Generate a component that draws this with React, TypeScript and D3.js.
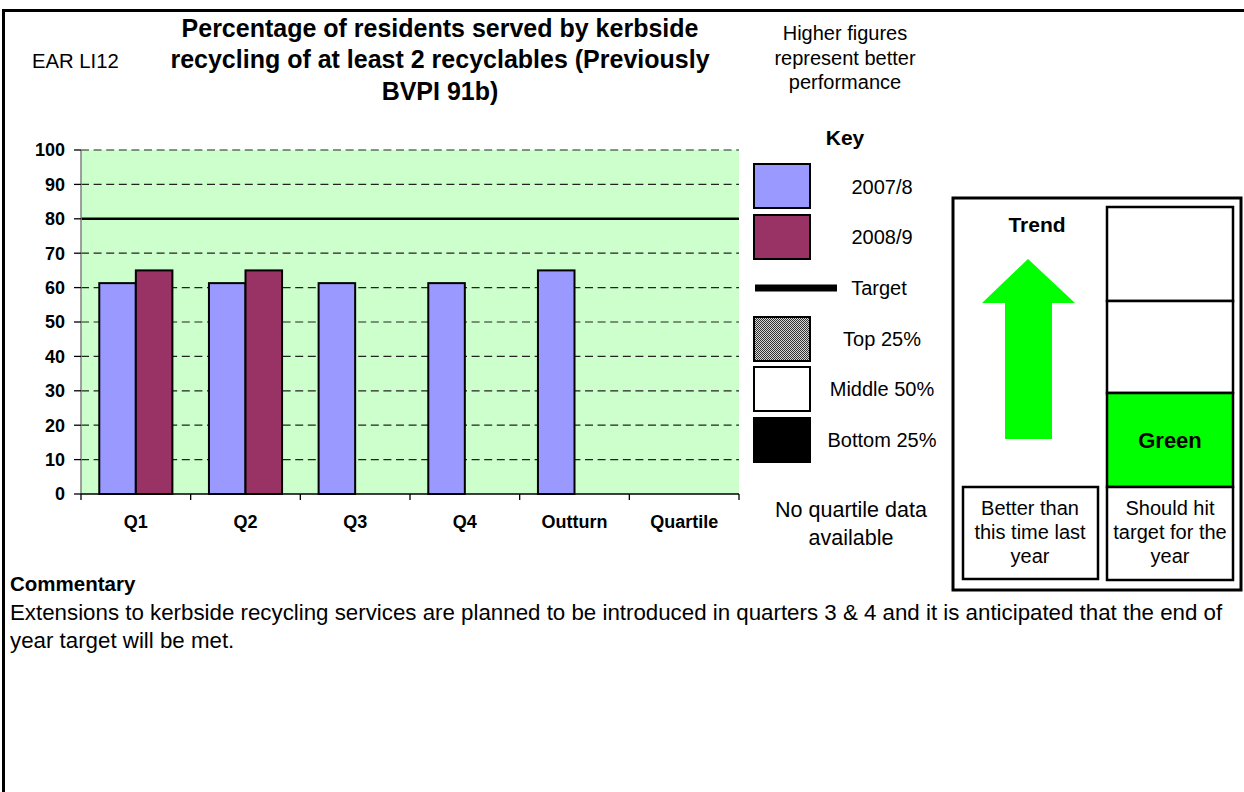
import React from 'react';
import * as d3 from 'd3';

// Quarterly performance data for EAR LI12
const categories = ['Q1', 'Q2', 'Q3', 'Q4', 'Outturn', 'Quartile'];
const seriesNames = ['2007/8', '2008/9'];
const values2007 = [61.3, 61.3, 61.3, 61.3, 65, null];
const values2008 = [65, 65, null, null, null, null];
const targetValue = 80;
const yTicks = [0, 10, 20, 30, 40, 50, 60, 70, 80, 90, 100];

const titleLines = [
  'Percentage of residents served by kerbside',
  'recycling of at least 2 recyclables (Previously',
  'BVPI 91b)',
];
const noteLines = ['Higher figures', 'represent better', 'performance'];
const keyItems = ['2007/8', '2008/9', 'Target', 'Top 25%', 'Middle 50%', 'Bottom 25%'];
const trendLines = ['Better than', 'this time last', 'year'];
const targetLines = ['Should hit', 'target for the', 'year'];
const quartileNote = ['No quartile data', 'available'];
const commentaryLines = [
  'Extensions to kerbside recycling services are planned to be introduced in quarters 3 & 4 and it is anticipated that the end of',
  'year target will be met.',
];

const FONT = '"Liberation Sans", Arial, Helvetica, sans-serif';
const seriesColors = ['#9999FF', '#993366'];

export default function App() {
  const W = 1244;
  const H = 792;
  const plot = { left: 81, right: 739, top: 150, bottom: 494 };

  const x = d3.scaleBand<string>().domain(categories).range([plot.left, plot.right]).padding(0);
  const xInner = d3
    .scaleBand<string>()
    .domain(seriesNames)
    .range([0, x.bandwidth()])
    .paddingInner(0)
    .paddingOuter(0.5);
  const y = d3.scaleLinear().domain([0, 100]).range([plot.bottom, plot.top]);

  const bars: { cat: string; s: string; v: number; color: string }[] = [];
  categories.forEach((c, i) => {
    const a = values2007[i];
    const b = values2008[i];
    if (a != null) bars.push({ cat: c, s: seriesNames[0], v: a, color: seriesColors[0] });
    if (b != null) bars.push({ cat: c, s: seriesNames[1], v: b, color: seriesColors[1] });
  });

  const boundaries = [...categories.map((c) => x(c) as number), plot.right];

  // key layout
  const keyX = 754;
  const keyW = 56;
  const keyRows = [
    { y: 164, h: 44 },
    { y: 215, h: 44 },
    { y: 284.5, h: 7 },
    { y: 317, h: 44 },
    { y: 367, h: 44 },
    { y: 418, h: 44 },
  ];
  const keyTextY = [194, 244, 295, 346, 396, 447];
  const keyFills = ['#9999FF', '#993366', '#000', 'url(#dots)', '#fff', '#000'];

  const arrow = [
    [1028, 259],
    [1075, 303],
    [1052, 303],
    [1052, 439],
    [1005, 439],
    [1005, 303],
    [982, 303],
  ];

  return (
    <svg
      width={W}
      height={H}
      style={{ position: 'absolute', left: 0, top: 0, background: '#fff' }}
      fontFamily={FONT}
    >
      <defs>
        <pattern id="dots" width="2" height="2" patternUnits="userSpaceOnUse">
          <rect width="2" height="2" fill="#d8d8d8" />
          <rect width="1" height="1" fill="#333" />
          <rect x="1" y="1" width="1" height="1" fill="#333" />
        </pattern>
      </defs>

      {/* page frame */}
      <line x1={3.5} y1={9} x2={3.5} y2={H} stroke="#000" strokeWidth={3} />
      <line x1={2} y1={10.5} x2={W} y2={10.5} stroke="#000" strokeWidth={3} />

      {/* headings */}
      <text x={32} y={68} fontSize={20.3}>EAR LI12</text>
      {titleLines.map((t, i) => (
        <text key={t} x={440} y={36.5 + i * 31.7} fontSize={25} fontWeight="bold" textAnchor="middle">
          {t}
        </text>
      ))}
      {noteLines.map((t, i) => (
        <text key={t} x={845} y={40 + i * 24.5} fontSize={20} textAnchor="middle">
          {t}
        </text>
      ))}

      {/* plot area */}
      <rect x={plot.left} y={plot.top} width={plot.right - plot.left} height={plot.bottom - plot.top} fill="#CCFFCC" />
      {yTicks
        .filter((t) => t !== 0 && t !== targetValue)
        .map((t) => (
          <line
            key={t}
            x1={plot.left}
            x2={plot.right}
            y1={y(t)}
            y2={y(t)}
            stroke="#222"
            strokeWidth={1.2}
            strokeDasharray="8,4.6"
          />
        ))}
      <line x1={plot.left} x2={plot.right} y1={y(targetValue)} y2={y(targetValue)} stroke="#000" strokeWidth={2.4} />

      {bars.map((b) => {
        const bx = (x(b.cat) as number) + (xInner(b.s) as number);
        return (
          <rect
            key={b.cat + b.s}
            x={bx}
            y={y(b.v)}
            width={xInner.bandwidth()}
            height={y(0) - y(b.v)}
            fill={b.color}
            stroke="#000"
            strokeWidth={2}
          />
        );
      })}

      {/* y axis */}
      <line x1={plot.left} x2={plot.left} y1={plot.top} y2={plot.bottom} stroke="#808080" strokeWidth={1.5} />
      {yTicks.map((t) => (
        <g key={t}>
          <line x1={plot.left - 7} x2={plot.left} y1={y(t)} y2={y(t)} stroke="#000" strokeWidth={1.3} />
          <text x={65} y={y(t)} dy="0.36em" fontSize={18} fontWeight="bold" textAnchor="end">
            {t}
          </text>
        </g>
      ))}

      {/* x axis */}
      <line x1={plot.left} x2={plot.right} y1={plot.bottom} y2={plot.bottom} stroke="#000" strokeWidth={1.3} />
      {boundaries.map((bx, i) => (
        <line key={i} x1={bx} x2={bx} y1={plot.bottom} y2={plot.bottom + 6} stroke="#000" strokeWidth={1.3} />
      ))}
      {categories.map((c) => (
        <text
          key={c}
          x={(x(c) as number) + x.bandwidth() / 2}
          y={528}
          fontSize={18}
          fontWeight="bold"
          textAnchor="middle"
        >
          {c}
        </text>
      ))}

      {/* key */}
      <text x={845} y={145} fontSize={21} fontWeight="bold" textAnchor="middle">Key</text>
      {keyItems.map((k, i) => {
        const r = keyRows[i];
        return (
          <g key={k}>
            {k === 'Target' ? (
              <rect x={755} y={r.y} width={82} height={r.h} fill="#000" />
            ) : (
              <rect x={keyX} y={r.y} width={keyW} height={r.h} fill={keyFills[i]} stroke="#000" strokeWidth={2} />
            )}
            <text x={k === 'Target' ? 879 : 882} y={keyTextY[i]} fontSize={20} textAnchor="middle">
              {k}
            </text>
          </g>
        );
      })}
      {quartileNote.map((t, i) => (
        <text key={t} x={851} y={517 + i * 28} fontSize={21.5} textAnchor="middle">
          {t}
        </text>
      ))}

      {/* trend and target panel */}
      <rect x={953} y={198} width={288} height={392} fill="#fff" stroke="#000" strokeWidth={3} />
      <text x={1037} y={232} fontSize={21} fontWeight="bold" textAnchor="middle">Trend</text>
      <polygon points={arrow.map((p) => p.join(',')).join(' ')} fill="#00FF00" />
      <rect x={963} y={487} width={135} height={92} fill="#fff" stroke="#000" strokeWidth={2.5} />
      {trendLines.map((t, i) => (
        <text key={t} x={1030} y={515 + i * 24} fontSize={20} textAnchor="middle">
          {t}
        </text>
      ))}
      <rect x={1107} y={207} width={126} height={94} fill="#fff" stroke="#000" strokeWidth={2.5} />
      <rect x={1107} y={301} width={126} height={92} fill="#fff" stroke="#000" strokeWidth={2.5} />
      <rect x={1107} y={393} width={126} height={94} fill="#00FF00" stroke="#000" strokeWidth={2.5} />
      <text x={1170} y={448} fontSize={22} fontWeight="bold" textAnchor="middle">Green</text>
      <rect x={1107} y={487} width={126} height={93} fill="#fff" stroke="#000" strokeWidth={2.5} />
      {targetLines.map((t, i) => (
        <text key={t} x={1170} y={515 + i * 24} fontSize={20} textAnchor="middle">
          {t}
        </text>
      ))}

      {/* commentary */}
      <text x={10} y={591} fontSize={20.5} fontWeight="bold">Commentary</text>
      {commentaryLines.map((t, i) => (
        <text key={i} x={10} y={620 + i * 28} fontSize={22.3}>
          {t}
        </text>
      ))}
    </svg>
  );
}
